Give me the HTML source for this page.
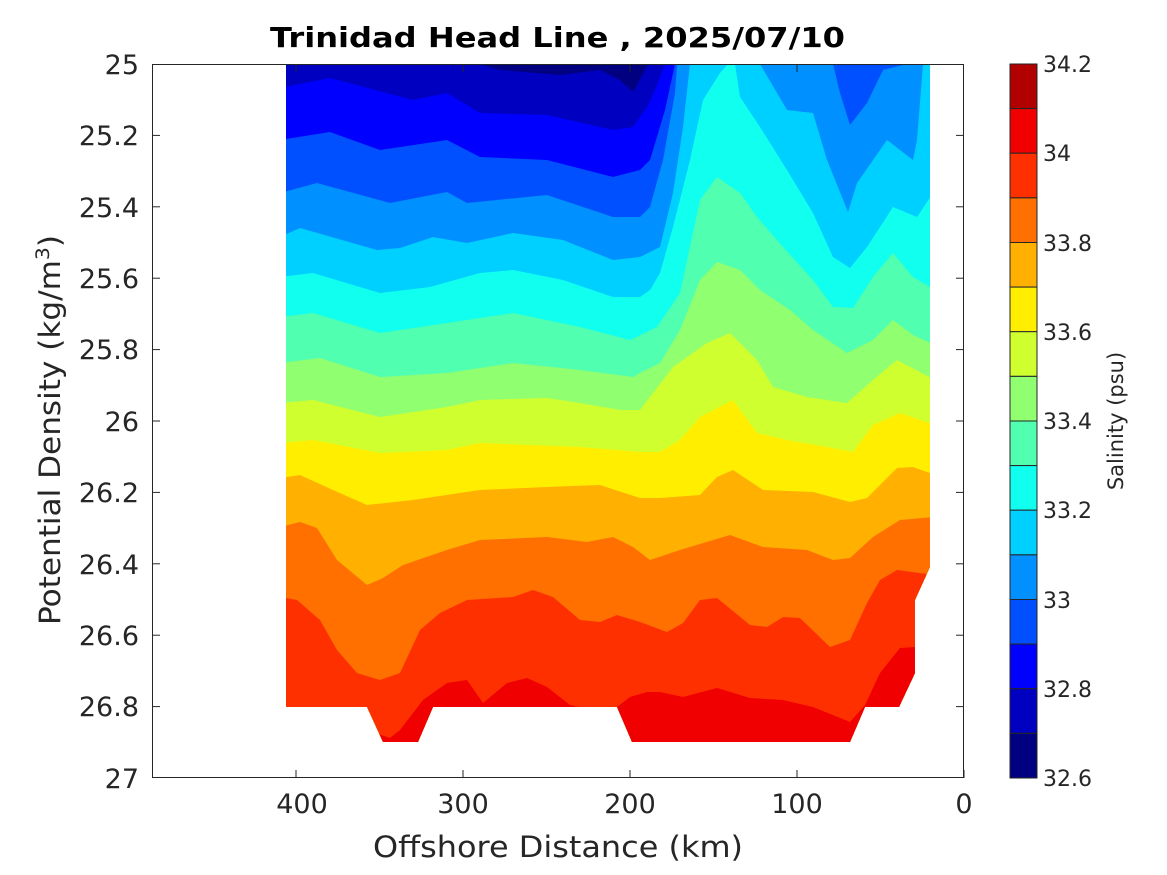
<!DOCTYPE html>
<html><head><meta charset="utf-8"><style>
body{margin:0;background:#fff;}
svg{display:block;font-family:"DejaVu Sans","Liberation Sans",sans-serif;}
</style></head><body>
<svg width="1167" height="875" viewBox="0 0 1167 875" xmlns="http://www.w3.org/2000/svg">
<defs>
<clipPath id="m"><polygon points="286,64 930,64 930,567 915,600 915,673 899,707 865,707 850,742 632,742 617,707 433,707 418,742 383,742 367,707 286,707"/></clipPath>
</defs>
<rect x="152" y="64" width="812" height="714" fill="#fff"/>
<g clip-path="url(#m)">
<rect x="280" y="60" width="660" height="720" fill="#0000C0"/>
<polygon fill="#000080" points="480,64 500,70 560,75 600,70 620,80 633,92 645,70 648,64"/>
<polygon fill="#0000FF" points="280,88 330,78 413,100 447,93 480,113 547,115 613,130 633,127 647,107 655,90 665,64 935,64 935,780 280,780"/>
<polygon fill="#0050FF" points="280,140 330,132 380,150 447,140 480,157 547,160 613,177 640,170 650,160 665,110 675,64 935,64 935,780 280,780"/>
<polygon fill="#0090FF" points="280,193 317,183 390,203 447,192 467,203 547,195 613,217 640,217 650,207 663,160 675,93 677,64 833,64 840,93 850,125 867,103 883,70 907,64 935,64 935,780 280,780"/>
<polygon fill="#00D0FF" points="280,237 300,228 377,250 400,248 433,237 467,243 513,233 563,240 613,260 640,257 660,247 673,193 683,127 690,64 760,64 787,110 813,113 827,160 848,212 857,183 887,140 913,160 917,140 923,64 935,64 935,780 280,780"/>
<polygon fill="#10FFEE" points="280,277 313,273 380,293 430,287 480,273 513,270 563,280 613,297 640,297 650,290 660,273 673,227 690,160 703,100 720,73 728,64 735,64 740,97 760,127 787,170 813,213 833,257 850,268 867,247 893,207 917,217 935,190 935,780 280,780"/>
<polygon fill="#50FFB0" points="280,317 313,313 380,333 447,323 513,313 580,327 630,340 657,327 680,293 700,200 717,177 740,193 757,217 783,247 813,280 833,307 853,308 873,277 893,253 913,277 935,290 935,780 280,780"/>
<polygon fill="#90FF70" points="280,363 320,358 380,377 447,373 513,363 580,370 633,377 640,373 660,363 680,330 700,280 717,262 740,270 760,290 790,310 813,330 847,353 873,340 893,320 913,335 935,345 935,780 280,780"/>
<polygon fill="#D0FF30" points="280,403 313,400 380,417 447,407 480,400 547,398 580,403 620,410 640,410 673,367 707,343 730,333 757,360 773,387 807,397 847,403 873,380 897,360 935,380 935,780 280,780"/>
<polygon fill="#FFEE00" points="280,443 313,440 380,453 447,450 480,443 580,447 640,452 660,452 680,440 700,417 733,400 757,433 787,440 827,447 853,452 873,425 900,413 935,425 935,780 280,780"/>
<polygon fill="#FFB000" points="280,478 300,475 333,490 367,505 413,500 480,490 547,487 600,485 640,498 660,498 700,495 717,477 733,470 763,490 813,492 850,502 867,498 897,468 913,467 935,475 935,780 280,780"/>
<polygon fill="#FF7000" points="280,527 300,522 317,528 337,560 367,585 383,578 403,565 447,550 480,540 547,537 587,542 613,537 633,547 650,560 680,550 730,535 763,547 807,550 833,560 850,558 873,537 900,520 935,517 935,780 280,780"/>
<polygon fill="#FF3000" points="280,597 297,600 320,620 337,650 357,673 380,680 400,673 420,630 440,613 467,600 513,597 533,590 553,597 580,620 600,622 617,615 640,622 667,632 683,623 700,600 717,598 750,625 767,627 783,617 800,618 830,647 850,640 867,603 880,580 897,570 935,575 935,780 280,780"/>
<polygon fill="#F00000" points="280,709 300,709 367,730 390,738 400,730 423,700 447,683 467,680 483,703 507,683 527,678 547,687 570,705 600,712 617,707 630,697 647,692 660,692 683,697 717,688 750,698 783,700 813,707 850,722 865,705 880,673 900,648 915,647 935,647 935,780 280,780"/>
</g>
<rect x="152.5" y="64.5" width="811" height="713" fill="none" stroke="#262626" stroke-width="1"/>
<g stroke="#262626" stroke-width="1">
<line x1="964" y1="778" x2="964" y2="770"/><line x1="797" y1="778" x2="797" y2="770"/><line x1="630" y1="778" x2="630" y2="770"/><line x1="463" y1="778" x2="463" y2="770"/><line x1="296" y1="778" x2="296" y2="770"/>
<line x1="797" y1="64" x2="797" y2="72"/><line x1="630" y1="64" x2="630" y2="72"/><line x1="463" y1="64" x2="463" y2="72"/><line x1="296" y1="64" x2="296" y2="72"/>
<line x1="152" y1="135.4" x2="160" y2="135.4"/><line x1="152" y1="206.8" x2="160" y2="206.8"/><line x1="152" y1="278.2" x2="160" y2="278.2"/><line x1="152" y1="349.6" x2="160" y2="349.6"/><line x1="152" y1="421" x2="160" y2="421"/><line x1="152" y1="492.4" x2="160" y2="492.4"/><line x1="152" y1="563.8" x2="160" y2="563.8"/><line x1="152" y1="635.2" x2="160" y2="635.2"/><line x1="152" y1="706.6" x2="160" y2="706.6"/>
<line x1="964" y1="135.4" x2="956" y2="135.4"/><line x1="964" y1="206.8" x2="956" y2="206.8"/><line x1="964" y1="278.2" x2="956" y2="278.2"/><line x1="964" y1="349.6" x2="956" y2="349.6"/><line x1="964" y1="421" x2="956" y2="421"/><line x1="964" y1="492.4" x2="956" y2="492.4"/><line x1="964" y1="563.8" x2="956" y2="563.8"/><line x1="964" y1="635.2" x2="956" y2="635.2"/><line x1="964" y1="706.6" x2="956" y2="706.6"/>
</g>
<g font-size="27" fill="#262626" text-anchor="end">
<text x="139" y="74">25</text><text x="139" y="145">25.2</text><text x="139" y="217">25.4</text><text x="139" y="288">25.6</text><text x="139" y="359">25.8</text><text x="139" y="431">26</text><text x="139" y="502">26.2</text><text x="139" y="574">26.4</text><text x="139" y="645">26.6</text><text x="139" y="716">26.8</text><text x="139" y="788">27</text>
</g>
<g font-size="27" fill="#262626" text-anchor="middle">
<text x="964" y="813">0</text><text x="797" y="813">100</text><text x="630" y="813">200</text><text x="463" y="813">300</text><text x="302" y="813">400</text>
</g>
<text x="373" y="857" font-size="29" fill="#262626" textLength="370" lengthAdjust="spacingAndGlyphs">Offshore Distance (km)</text>
<text transform="translate(60,625) rotate(-90)" font-size="29" fill="#262626" textLength="390" lengthAdjust="spacingAndGlyphs">Potential Density (kg/m<tspan font-size="19" dy="-11">3</tspan><tspan dy="11">)</tspan></text>
<text x="270" y="47" font-size="28" font-weight="bold" fill="#000" textLength="575" lengthAdjust="spacingAndGlyphs">Trinidad Head Line , 2025/07/10</text>
<g stroke="#262626" stroke-width="1">
<rect x="1010" y="64" width="27" height="44.6" fill="#B00000"/>
<rect x="1010" y="108.6" width="27" height="44.6" fill="#F00000"/>
<rect x="1010" y="153.2" width="27" height="44.6" fill="#FF3000"/>
<rect x="1010" y="197.9" width="27" height="44.6" fill="#FF7000"/>
<rect x="1010" y="242.5" width="27" height="44.6" fill="#FFB000"/>
<rect x="1010" y="287.1" width="27" height="44.6" fill="#FFEE00"/>
<rect x="1010" y="331.7" width="27" height="44.6" fill="#D0FF30"/>
<rect x="1010" y="376.4" width="27" height="44.6" fill="#90FF70"/>
<rect x="1010" y="421" width="27" height="44.6" fill="#50FFB0"/>
<rect x="1010" y="465.6" width="27" height="44.6" fill="#10FFEE"/>
<rect x="1010" y="510.2" width="27" height="44.6" fill="#00D0FF"/>
<rect x="1010" y="554.9" width="27" height="44.6" fill="#0090FF"/>
<rect x="1010" y="599.5" width="27" height="44.6" fill="#0050FF"/>
<rect x="1010" y="644.1" width="27" height="44.6" fill="#0000FF"/>
<rect x="1010" y="688.7" width="27" height="44.6" fill="#0000C0"/>
<rect x="1010" y="733.4" width="27" height="44.6" fill="#000080"/>
</g>
<g font-size="22" fill="#262626">
<text x="1043" y="72">34.2</text><text x="1043" y="161">34</text><text x="1043" y="251">33.8</text><text x="1043" y="340">33.6</text><text x="1043" y="429">33.4</text><text x="1043" y="518">33.2</text><text x="1043" y="608">33</text><text x="1043" y="697">32.8</text><text x="1043" y="786">32.6</text>
</g>
<text transform="translate(1123,421) rotate(-90)" font-size="21" fill="#262626" text-anchor="middle">Salinity (psu)</text>
</svg>
</body></html>
